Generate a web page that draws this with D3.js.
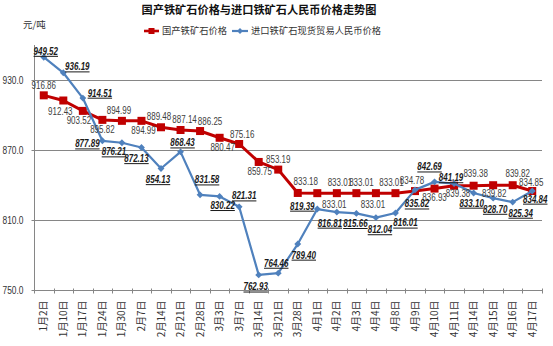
<!DOCTYPE html>
<html><head><meta charset="utf-8">
<script src="https://cdn.jsdelivr.net/npm/d3@7"></script>
<style>
html,body{margin:0;padding:0;background:#fff;}
svg{display:block;}
</style></head>
<body>
<svg id="c" width="553" height="346"></svg>
<script>
const categories = ["1月2日","1月10日","1月17日","1月24日","1月30日","2月7日","2月14日","2月21日","2月28日","3月3日","3月7日","3月14日","3月21日","3月28日","4月1日","4月2日","4月3日","4月4日","4月8日","4月9日","4月10日","4月11日","4月14日","4月15日","4月16日","4月17日"];
const domestic = [916.86,912.43,903.52,895.82,894.99,894.99,889.48,887.14,886.25,880.47,875.16,859.75,853.19,833.18,833.01,833.01,833.01,833.01,833.01,834.78,836.93,839.38,839.38,839.82,839.82,834.85];
const imported = [949.52,936.19,914.51,877.89,876.21,872.13,854.13,868.43,831.58,830.22,821.31,762.93,764.46,789.40,819.39,816.81,815.66,812.04,816.01,835.82,842.69,841.19,833.10,828.70,825.34,834.84];
const yTicks = [750,810,870,930];
const seriesNames = ["国产铁矿石价格","进口铁矿石现货贸易人民币价格"];
const titleText = "国产铁矿石价格与进口铁矿石人民币价格走势图";
const unitText = "元/吨";

// label offsets (presentation only): [dx, dy] of label centre relative to point
const domLabelOff = [[0,-10],[-3,11],[-4,10],[0,10],[-3,-10],[2,10],[-2,-11],[4,-11],[10,-10],[3,10],[3,-9],[1,10],[0,-10],[8,-11],[17,11],[3,-11],[5,-11],[-3,11],[-4,-11],[-3,-11],[0,9],[4,8],[2,-12],[1,8],[5,-12],[-1,-9]];
const impLabelOff = [[2,-6],[14,-6],[17,-5],[-15,3],[-8,9],[-5,11],[-3,11],[2,-9],[7,-15],[3,9],[5,-11],[-3,12],[-2,-10],[6,11],[-15,-3],[-7,11],[-1,10],[4,12],[10,10],[2,14],[-5,-15],[-3,-6],[-2,10],[2,11],[8,11],[3,8]];

const svg = d3.select("#c");
const m = {left:34, right:542, top:45, bottom:290};
const x = d3.scaleBand().domain(categories).range([m.left, m.right]).paddingInner(0).paddingOuter(0);
const cx = d => x(d) + x.bandwidth()/2;
const y = d3.scaleLinear().domain([750,960]).range([m.bottom, m.top]);

const axisColor = "#868686";
const red = "#C00000", blue = "#4F81BD";
const numFont = "'Liberation Sans',Arial,sans-serif";
const cjkFont = "'Noto Sans CJK SC','Noto Sans',sans-serif";
const sx = 0.8; // horizontal condensing of numeric labels

// gridlines
svg.append("g").selectAll("line").data(yTicks.filter(t=>t>750)).join("line")
  .attr("x1", m.left).attr("x2", m.right).attr("y1", d=>y(d)+0.5).attr("y2", d=>y(d)+0.5)
  .attr("stroke", axisColor).attr("stroke-width", 1);

// y axis
const yAxis = d3.axisLeft(y).tickValues(yTicks).tickFormat(d3.format(".1f")).tickSize(3).tickSizeOuter(0);
const yg = svg.append("g").attr("transform", `translate(${m.left+0.5},0)`).call(yAxis);
yg.select(".domain").attr("stroke", axisColor).attr("d", `M0,${m.top}V${m.bottom}`);
yg.selectAll(".tick line").attr("stroke", axisColor);
yg.selectAll(".tick text").attr("font-family", numFont).attr("font-size", "10.5px").attr("fill", "#333")
  .attr("x", -11/sx).attr("transform", `scale(${sx},1)`);

// x axis
const xg = svg.append("g").attr("transform", `translate(0,${m.bottom+0.5})`);
xg.append("line").attr("x1", m.left).attr("x2", m.right).attr("stroke", axisColor);
const bounds = categories.map(c => x(c)).concat([m.right]);
xg.selectAll("line.tk").data(bounds).join("line").attr("class","tk")
  .attr("x1", d=>Math.round(d)+0.5).attr("x2", d=>Math.round(d)+0.5).attr("y1", -2).attr("y2", 3)
  .attr("stroke", axisColor);
xg.selectAll("text").data(categories).join("text")
  .attr("transform", d => `translate(${cx(d)},10) rotate(-90)`)
  .attr("text-anchor", "end").attr("dy", "0.35em")
  .attr("font-family", cjkFont).attr("font-size", "10px").attr("fill", "#333")
  .text(d => d);

// lines
const lineGen = vals => d3.line().x((d,i)=>cx(categories[i])).y(d=>y(d))(vals);
svg.append("path").attr("d", lineGen(domestic)).attr("fill","none").attr("stroke", red).attr("stroke-width", 3).attr("stroke-linejoin","round");
svg.append("g").selectAll("rect").data(domestic).join("rect")
  .attr("x", (d,i)=>cx(categories[i])-4).attr("y", d=>y(d)-4).attr("width", 8).attr("height", 8).attr("fill", red);

svg.append("path").attr("d", lineGen(imported)).attr("fill","none").attr("stroke", blue).attr("stroke-width", 2.2).attr("stroke-linejoin","round");
svg.append("g").selectAll("path").data(imported).join("path")
  .attr("d", d3.symbol(d3.symbolDiamond2, 30)())
  .attr("transform", (d,i)=>`translate(${cx(categories[i])},${y(d)})`).attr("fill", blue);

// labels
svg.append("g").selectAll("text").data(domestic).join("text")
  .attr("transform", (d,i)=>`translate(${cx(categories[i]) + domLabelOff[i][0]},${y(d) + domLabelOff[i][1]}) scale(${sx},1)`)
  .attr("dy", "0.35em").attr("text-anchor", "middle")
  .attr("font-family", numFont).attr("font-size", "10px").attr("fill", "#404040")
  .text(d=>d.toFixed(2));
svg.append("g").selectAll("text").data(imported).join("text")
  .attr("transform", (d,i)=>`translate(${cx(categories[i]) + impLabelOff[i][0]},${y(d) + impLabelOff[i][1]}) scale(${sx},1)`)
  .attr("dy", "0.35em").attr("text-anchor", "middle")
  .attr("font-family", numFont).attr("font-size", "10px").attr("font-weight", "bold").attr("font-style", "italic")
  .attr("text-decoration", "underline").attr("fill", "#1a1a1a")
  .text(d=>d.toFixed(2));

// title
svg.append("text").attr("x", 259).attr("y", 14).attr("text-anchor","middle")
  .attr("font-family", cjkFont).attr("font-weight","bold").attr("font-size","11.2px").attr("fill","#111")
  .text(titleText);
svg.append("text").attr("x", 23).attr("y", 28)
  .attr("font-family", cjkFont).attr("font-size","9.5px").attr("fill","#333").text(unitText);

// legend
const lg = svg.append("g").attr("transform","translate(0,31)");
lg.append("line").attr("x1",144).attr("x2",159).attr("stroke",red).attr("stroke-width",2.6);
lg.append("rect").attr("x",148.5).attr("y",-3).attr("width",6).attr("height",6).attr("fill",red);
lg.append("text").attr("x",162).attr("dy","0.35em").attr("font-family",cjkFont).attr("font-size","9.3px").attr("fill","#333").text(seriesNames[0]);
lg.append("line").attr("x1",232).attr("x2",248).attr("stroke",blue).attr("stroke-width",2.2);
lg.append("path").attr("d", d3.symbol(d3.symbolDiamond2, 22)()).attr("transform","translate(240,0)").attr("fill",blue);
lg.append("text").attr("x",251).attr("dy","0.35em").attr("font-family",cjkFont).attr("font-size","9.3px").attr("fill","#333").text(seriesNames[1]);
</script>
</body></html>
